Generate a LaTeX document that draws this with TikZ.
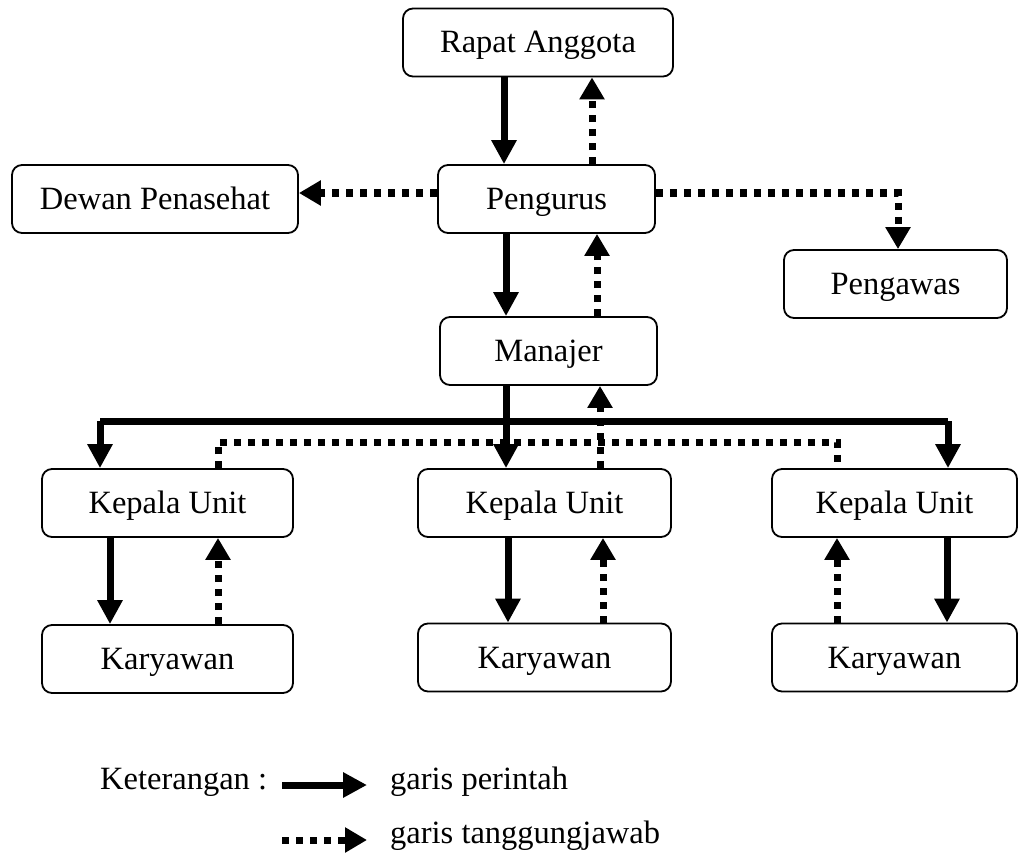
\documentclass[tikz,border=0pt]{standalone}
\usepackage{fontspec}
\setmainfont{Liberation Serif}
\usetikzlibrary{arrows.meta}
\begin{document}
\begin{tikzpicture}[x=1pt,y=-1pt,
  box/.style={draw=black,line width=1.8pt,rounded corners=10pt,inner sep=0pt,
    text height=21pt,text depth=0pt,font=\fontsize{32.5}{38}\selectfont,minimum height=68pt},
  lbl/.style={inner sep=0pt,anchor=base west,font=\fontsize{32.5}{38}\selectfont},
  cmd/.style={line width=7pt,-{Triangle[length=24pt,width=24pt]}},
  cmdline/.style={line width=7pt},
  resp/.style={line width=7pt,dash pattern=on 7pt off 7pt},
  resparrow/.style={resp,-{Triangle[length=22pt,width=24pt]}}]
\useasboundingbox (0,0) rectangle (1019,853);
% nodes
\node[box,minimum width=270pt] (ra) at (538,42.5) {Rapat Anggota};
\node[box,minimum width=217pt] (pg) at (546.5,199) {Pengurus};
\node[box,minimum width=286pt] (dp) at (155,199) {Dewan Penasehat};
\node[box,minimum width=223pt] (pw) at (895.5,284) {Pengawas};
\node[box,minimum width=217pt] (mj) at (548.5,351) {Manajer};
\node[box,minimum width=251pt] (kl) at (167.5,503) {Kepala Unit};
\node[box,minimum width=253pt] (km) at (544.5,503) {Kepala Unit};
\node[box,minimum width=245pt] (kr) at (894.5,503) {Kepala Unit};
\node[box,minimum width=251pt] (yl) at (167.5,659) {Karyawan};
\node[box,minimum width=253pt] (ym) at (544.5,657.5) {Karyawan};
\node[box,minimum width=245pt] (yr) at (894.5,657.5) {Karyawan};
% helper coordinates
\coordinate (x504) at (504,0);
\coordinate (x592) at (592,0);
\coordinate (x506) at (506,0);
\coordinate (x597) at (597,0);
\coordinate (x600) at (600,0);
\coordinate (pr) at (898,193);
\coordinate (bl) at (100,421);
\coordinate (br) at (948,421);
\coordinate (dl) at (218,442);
\coordinate (dr) at (837,442);
\coordinate (x110) at (110,0);
\coordinate (x508) at (508,0);
\coordinate (x603) at (603,0);
\coordinate (x947) at (947,0);
% top connectors
\draw[cmd] (ra.south -| x504) -- (pg.north -| x504);
\draw[resparrow] (pg.north -| x592) -- (ra.south -| x592);
\draw[resparrow] (pg.west |- pr) -- (dp.east |- pr);
\draw[resparrow] (pg.east |- pr) -- (pr) -- (pw.north -| pr);
\draw[cmd] (pg.south -| x506) -- (mj.north -| x506);
\draw[resparrow] (mj.north -| x597) -- (pg.south -| x597);
% branch to units
\draw[cmdline] (bl) -- (br);
\draw[cmd] (bl) -- (kl.north -| bl);
\draw[cmd] (br) -- (kr.north -| br);
\draw[cmd] (mj.south -| x506) -- (km.north -| x506);
\draw[resp] (kl.north -| dl) -- (dl) -- (dr) -- (kr.north -| dr);
\draw[resparrow] (km.north -| x600) -- (mj.south -| x600);
% units to employees
\draw[cmd] (kl.south -| x110) -- (yl.north -| x110);
\draw[resparrow] (yl.north -| dl) -- (kl.south -| dl);
\draw[cmd] (km.south -| x508) -- (ym.north -| x508);
\draw[resparrow] (ym.north -| x603) -- (km.south -| x603);
\draw[resparrow] (yr.north -| dr) -- (kr.south -| dr);
\draw[cmd] (kr.south -| x947) -- (yr.north -| x947);
% legend
\node[lbl] (k) at (100,789) {Keterangan :};
\node[lbl] (g1) at (390,789) {garis perintah};
\node[lbl] (g2) at (390,843) {garis tanggungjawab};
\coordinate (l1a) at (282,785);
\coordinate (l1b) at (367,785);
\coordinate (l2a) at (282,840);
\coordinate (l2b) at (367,840);
\draw[cmd] (l1a) -- (l1b);
\draw[resparrow] (l2a) -- (l2b);
\end{tikzpicture}
\end{document}
